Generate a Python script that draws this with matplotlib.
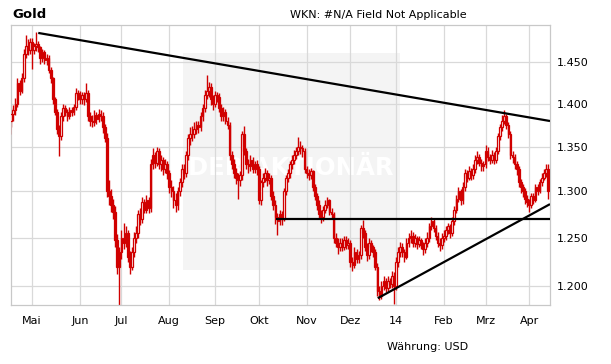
import numpy as np
import pandas as pd
import matplotlib
matplotlib.use("Agg")
import matplotlib.pyplot as plt
from matplotlib.patches import Rectangle
from matplotlib.ticker import FixedLocator, FuncFormatter, NullLocator

# trading days shown on the chart (one bar per weekday)
dates = pd.bdate_range("2013-04-16", "2014-04-14")

firstOpen = 1365

closeApr13 = [1380, 1388, 1392, 1400, 1425, 1415, 1430, 1460, 1470, 1465, 1475]
highApr13 = [1392, 1395, 1398, 1406, 1430, 1428, 1436, 1466, 1484, 1478, 1480]
lowApr13 = [1340, 1372, 1380, 1386, 1396, 1410, 1412, 1426, 1455, 1458, 1460]

closeMay = [1465, 1470, 1472, 1468, 1455, 1462, 1452, 1455, 1440, 1430, 1405, 1390,
            1370, 1362, 1385, 1395, 1390, 1385, 1392, 1390, 1396, 1412, 1410]
highMay = [1480, 1474, 1487, 1476, 1470, 1466, 1465, 1460, 1458, 1444, 1432, 1408,
           1394, 1375, 1390, 1400, 1398, 1394, 1396, 1396, 1400, 1418, 1416]
lowMay = [1442, 1460, 1464, 1462, 1448, 1450, 1448, 1446, 1436, 1425, 1400, 1386,
          1365, 1339, 1358, 1380, 1385, 1380, 1382, 1385, 1386, 1392, 1404]

closeJun = [1405, 1410, 1405, 1412, 1385, 1380, 1378, 1386, 1382, 1388,
            1385, 1372, 1360, 1300, 1295, 1285, 1278, 1248, 1220, 1235]
highJun = [1415, 1414, 1414, 1425, 1416, 1390, 1386, 1392, 1390, 1394,
           1392, 1390, 1376, 1366, 1312, 1302, 1292, 1284, 1254, 1240]
lowJun = [1400, 1400, 1398, 1402, 1380, 1374, 1372, 1374, 1376, 1378,
          1380, 1366, 1355, 1294, 1285, 1278, 1270, 1240, 1212, 1181]

closeJul = [1250, 1245, 1255, 1230, 1220, 1235, 1250, 1255, 1275, 1270, 1288, 1280,
            1290, 1282, 1330, 1340, 1332, 1345, 1330, 1335, 1325, 1330, 1320]
highJul = [1258, 1266, 1262, 1258, 1236, 1240, 1256, 1262, 1280, 1282, 1294, 1292,
           1296, 1294, 1336, 1348, 1344, 1350, 1348, 1340, 1338, 1336, 1334]
lowJul = [1228, 1238, 1240, 1225, 1212, 1216, 1230, 1245, 1250, 1264, 1266, 1276,
          1276, 1276, 1278, 1325, 1326, 1328, 1325, 1322, 1318, 1320, 1314]

closeAug = [1305, 1300, 1290, 1285, 1300, 1310, 1325, 1320, 1340, 1360, 1365,
            1365, 1370, 1375, 1372, 1385, 1395, 1410, 1415, 1420, 1405, 1400]
highAug = [1324, 1312, 1306, 1298, 1305, 1315, 1330, 1330, 1345, 1364, 1372,
           1374, 1378, 1380, 1380, 1390, 1400, 1416, 1434, 1426, 1424, 1410]
lowAug = [1298, 1294, 1282, 1278, 1280, 1295, 1305, 1314, 1316, 1335, 1352,
          1356, 1360, 1364, 1366, 1368, 1380, 1390, 1405, 1408, 1398, 1392]

closeSep = [1410, 1408, 1395, 1385, 1390, 1380, 1375, 1340, 1330, 1320, 1315,
            1312, 1318, 1365, 1345, 1330, 1328, 1335, 1325, 1330, 1325]
highSep = [1415, 1414, 1412, 1400, 1396, 1394, 1384, 1378, 1345, 1336, 1326,
           1320, 1322, 1368, 1374, 1348, 1336, 1340, 1338, 1334, 1335]
lowSep = [1396, 1402, 1390, 1380, 1380, 1376, 1370, 1335, 1325, 1315, 1308,
          1292, 1306, 1312, 1340, 1325, 1320, 1322, 1320, 1320, 1318]

closeOct = [1290, 1310, 1315, 1320, 1312, 1315, 1295, 1285, 1272, 1268, 1275, 1270,
            1300, 1315, 1320, 1330, 1335, 1340, 1345, 1350, 1348, 1345, 1325]
highOct = [1328, 1312, 1320, 1326, 1324, 1320, 1318, 1300, 1290, 1276, 1280, 1279,
           1304, 1318, 1325, 1334, 1340, 1346, 1350, 1361, 1356, 1352, 1348]
lowOct = [1286, 1285, 1305, 1310, 1306, 1308, 1290, 1280, 1265, 1253, 1264, 1264,
          1268, 1296, 1310, 1315, 1325, 1330, 1336, 1340, 1342, 1338, 1320]

closeNov = [1320, 1318, 1322, 1305, 1295, 1285, 1275, 1272, 1280, 1285, 1290,
            1278, 1275, 1250, 1245, 1240, 1245, 1240, 1248, 1242, 1245]
highNov = [1328, 1325, 1326, 1324, 1308, 1298, 1290, 1280, 1284, 1290, 1294,
           1292, 1282, 1278, 1255, 1250, 1250, 1250, 1252, 1252, 1250]
lowNov = [1315, 1312, 1314, 1300, 1290, 1280, 1270, 1266, 1268, 1276, 1282,
          1274, 1270, 1245, 1240, 1233, 1236, 1236, 1237, 1238, 1238]

closeDec = [1225, 1222, 1235, 1228, 1232, 1260, 1255, 1240, 1232, 1245, 1240,
            1235, 1220, 1195, 1190, 1200, 1205, 1198, 1205, 1202, 1210, 1200]
highDec = [1248, 1230, 1240, 1238, 1236, 1264, 1269, 1258, 1244, 1250, 1248,
           1242, 1238, 1224, 1200, 1205, 1210, 1208, 1210, 1208, 1215, 1214]
lowDec = [1220, 1215, 1218, 1224, 1224, 1228, 1250, 1236, 1226, 1228, 1235,
          1230, 1216, 1190, 1186, 1187, 1196, 1194, 1195, 1198, 1198, 1182]

closeJan = [1225, 1235, 1240, 1235, 1230, 1245, 1250, 1252, 1245, 1250, 1243, 1248,
            1242, 1238, 1245, 1250, 1262, 1268, 1260, 1252, 1245, 1242, 1250]
highJan = [1230, 1240, 1246, 1244, 1238, 1250, 1255, 1258, 1256, 1254, 1252, 1252,
           1250, 1246, 1250, 1256, 1266, 1272, 1270, 1264, 1256, 1250, 1255]
lowJan = [1196, 1220, 1230, 1230, 1225, 1228, 1240, 1245, 1240, 1240, 1238, 1240,
          1238, 1232, 1234, 1240, 1246, 1258, 1256, 1248, 1240, 1236, 1238]

closeFeb = [1252, 1258, 1262, 1255, 1268, 1280, 1292, 1300, 1290, 1305,
            1320, 1315, 1322, 1318, 1325, 1335, 1338, 1332, 1328, 1330]
highFeb = [1258, 1262, 1266, 1265, 1272, 1284, 1296, 1305, 1302, 1310,
           1325, 1324, 1328, 1326, 1330, 1340, 1345, 1342, 1336, 1334]
lowFeb = [1246, 1248, 1254, 1250, 1252, 1264, 1276, 1288, 1285, 1286,
          1300, 1310, 1312, 1312, 1314, 1320, 1330, 1328, 1322, 1322]

closeMar = [1345, 1338, 1335, 1340, 1335, 1345, 1362, 1372, 1380, 1385, 1375,
            1365, 1340, 1338, 1330, 1325, 1310, 1305, 1300, 1292, 1288]
highMar = [1352, 1350, 1342, 1346, 1344, 1350, 1366, 1376, 1386, 1392, 1388,
           1378, 1368, 1345, 1342, 1334, 1328, 1314, 1308, 1304, 1296]
lowMar = [1326, 1334, 1330, 1332, 1330, 1332, 1342, 1358, 1368, 1376, 1370,
          1360, 1336, 1332, 1325, 1318, 1305, 1298, 1294, 1286, 1283]

closeApr14 = [1285, 1295, 1290, 1305, 1300, 1310, 1315, 1320, 1325, 1300]
highApr14 = [1292, 1298, 1298, 1308, 1308, 1314, 1320, 1325, 1330, 1330]
lowApr14 = [1278, 1282, 1286, 1288, 1296, 1298, 1306, 1312, 1316, 1292]

monthLabels = ["Mai", "Jun", "Jul", "Aug", "Sep", "Okt", "Nov", "Dez", "14", "Feb", "Mrz", "Apr"]
priceTicks = [1200, 1250, 1300, 1350, 1400, 1450]

# hand drawn trend lines: (bar index, price) at start and end
upperTrend = ([14, 260], [1486, 1379.5])
supportLine = ([128.3, 260], [1269.6, 1269.6])
lowerTrend = ([177.2, 260], [1187.8, 1286])

closes = (closeApr13 + closeMay + closeJun + closeJul + closeAug + closeSep + closeOct
          + closeNov + closeDec + closeJan + closeFeb + closeMar + closeApr14)
highs = (highApr13 + highMay + highJun + highJul + highAug + highSep + highOct
         + highNov + highDec + highJan + highFeb + highMar + highApr14)
lows = (lowApr13 + lowMay + lowJun + lowJul + lowAug + lowSep + lowOct
        + lowNov + lowDec + lowJan + lowFeb + lowMar + lowApr14)
opens = [firstOpen] + closes[:-1]

n = min(len(dates), len(closes))
x = np.arange(n)
o = np.array(opens[:n], dtype=float)
c = np.array(closes[:n], dtype=float)
h = np.array(highs[:n], dtype=float)
l = np.array(lows[:n], dtype=float)

red = "#d00000"
gridColor = "#d9d9d9"

fig = plt.figure(figsize=(6.11, 3.64), dpi=100)
ax = fig.add_axes([10.5 / 611, 1 - 305 / 364, 539.5 / 611, 280 / 364])
ax.set_yscale("log")

# watermark box
ax.add_patch(Rectangle((0.32, 0.125), 0.402, 0.775, transform=ax.transAxes,
                       facecolor="#f4f4f4", edgecolor="none", zorder=0.2))
ax.text(0.52, 0.49, "DER AKTIONÄR", transform=ax.transAxes, ha="center", va="center",
        fontsize=17.5, fontweight="bold", color="white", zorder=0.3)

# candles
up = c >= o
ax.vlines(x, np.minimum(l, np.minimum(o, c)), np.maximum(h, np.maximum(o, c)),
          color=red, lw=1.0, zorder=2)
ax.bar(x, np.abs(c - o), bottom=np.minimum(o, c), width=0.8,
       color=np.where(up, "white", red), edgecolor=red, linewidth=0.9, zorder=3)

# trend lines
for lx, ly in (upperTrend, supportLine, lowerTrend):
    ax.plot(lx, ly, color="black", lw=1.6, solid_capstyle="butt", zorder=4)

ax.set_xlim(0.66, 260)
ax.set_ylim(1181, 1496)

monthStarts = [i for i in range(1, n) if dates[i].month != dates[i - 1].month]
ax.xaxis.set_major_locator(FixedLocator(monthStarts))
ax.set_xticklabels(monthLabels[:len(monthStarts)])
ax.yaxis.set_major_locator(FixedLocator(priceTicks))
ax.yaxis.set_minor_locator(NullLocator())
ax.yaxis.set_major_formatter(FuncFormatter(lambda v, p: f"{v:,.0f}".replace(",", ".")))
ax.yaxis.tick_right()

ax.tick_params(axis="both", length=0, labelsize=8, colors="black")
ax.tick_params(axis="x", pad=8)
ax.tick_params(axis="y", pad=5)
ax.grid(True, color=gridColor, lw=0.9)
ax.set_axisbelow(True)
for s in ax.spines.values():
    s.set_color("#c8c8c8")
    s.set_linewidth(0.9)

fig.text(12 / 611, 1 - 17.5 / 364, "Gold", fontsize=9.5, fontweight="bold", va="baseline")
fig.text(290 / 611, 1 - 18 / 364, "WKN: #N/A Field Not Applicable", fontsize=8, va="baseline")
fig.text(427.5 / 611, 1 - 350 / 364, "Währung: USD", fontsize=8, ha="center", va="baseline")

fig.savefig("out.png", dpi=100)
